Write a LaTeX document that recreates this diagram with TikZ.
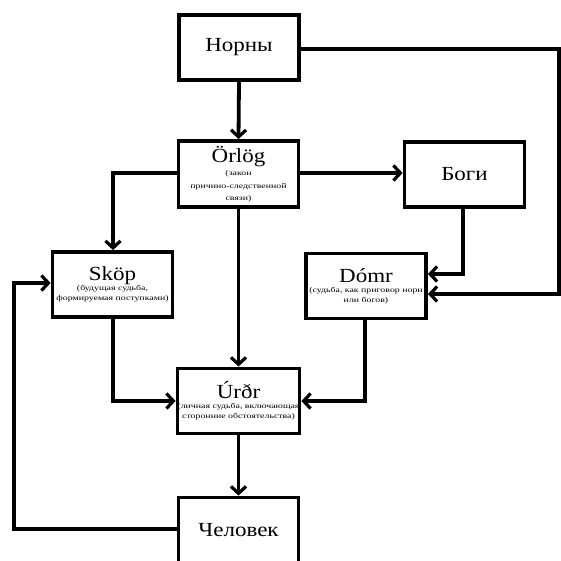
\documentclass[tikz,border=0pt]{standalone}
\usepackage{fontspec}
\setmainfont{Liberation Serif}
\usepackage{graphicx}
\usetikzlibrary{arrows.meta}
\newcommand{\boxttl}[1]{\scalebox{1.15}[1]{\fontsize{20}{22}\selectfont #1}}
\newcommand{\boxsub}[1]{\scalebox{1.35}[1]{\fontsize{7.3}{8}\selectfont #1}}
\tikzset{
  box/.style={draw, line width=3.8pt, inner sep=0pt, align=center, fill=white,
              minimum width=120pt, minimum height=65pt, font=\fontsize{7}{10}\selectfont},
  conn/.style={line width=3.8pt, -{Straight Barb[length=7pt,width=15pt,line width=3.2pt]}}
}
\begin{document}
\begin{tikzpicture}[x=1pt,y=-1pt]
\useasboundingbox (0,0) rectangle (561,561);
\clip (0,0) rectangle (561,561);
\fill[white] (0,0) rectangle (561,561);

\node[box] (norny) at (239,47.5) {\boxttl{Норны}};
\node[box, minimum height=66pt] (orlog) at (238.5,174) {\boxttl{Örlög}\\[3pt]\boxsub{(закон}\\[3pt]\boxsub{причино-следственной}\\[2pt]\boxsub{связи)}};
\node[box] (bogi) at (464.5,174.5) {\boxttl{Боги}};
\node[box] (skop) at (112.5,284.5) {\boxttl{Sköp}\\[0pt]\boxsub{(будущая судьба,}\\\boxsub{формируемая поступками)}};
\node[box] (domr) at (366,286) {\boxttl{Dómr}\\[0pt]\boxsub{(судьба, как приговор норн}\\\boxsub{или богов)}};
\node[box] (urdr) at (238.5,401) {\boxttl{Úrðr}\\[0pt]\boxsub{(личная судьба, включающая}\\\boxsub{сторонние обстоятельства)}};
\node[box] (chel) at (238.5,530) {\boxttl{Человек}};

\coordinate (nr) at (559,49);
\coordinate (nd) at (559,294);
\coordinate (ol) at (113,173);
\coordinate (bd) at (463,274);
\coordinate (sd) at (113,401);
\coordinate (dd) at (365,401);
\coordinate (cl) at (14,529);
\coordinate (cu) at (14,283);

\draw[conn] (norny.south) -- (orlog.north);
\draw[conn] (norny.east |- nr) -- (nr) -- (nd) -- (domr.east |- nd);
\draw[conn] (orlog.east |- 0,173) -- (bogi.west |- 0,173);
\draw[conn] (orlog.west |- ol) -- (ol) -- (skop.north -| ol);
\draw[conn] (orlog.south) -- (urdr.north);
\draw[conn] (bogi.south -| bd) -- (bd) -- (domr.east |- bd);
\draw[conn] (skop.south -| sd) -- (sd) -- (urdr.west |- sd);
\draw[conn] (domr.south -| dd) -- (dd) -- (urdr.east |- dd);
\draw[conn] (urdr.south) -- (chel.north);
\draw[conn] (chel.west |- cl) -- (cl) -- (cu) -- (skop.west |- cu);
\end{tikzpicture}
\end{document}
